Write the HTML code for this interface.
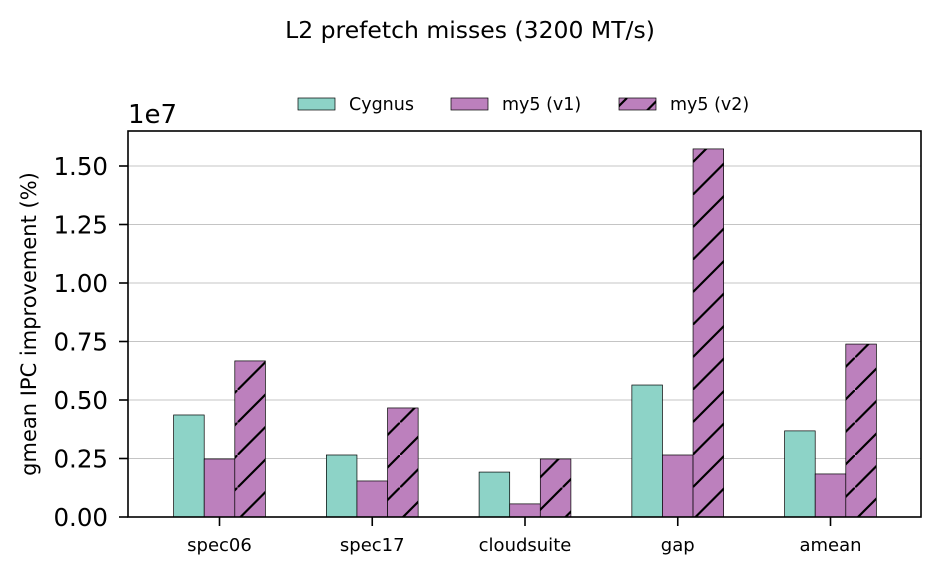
<!DOCTYPE html>
<html><head><meta charset="utf-8"><style>
body{margin:0;background:#fff;font-family:"Liberation Sans","DejaVu Sans",sans-serif}
svg text{font-family:"DejaVu Sans","Liberation Sans",sans-serif}
</style></head><body>
<svg id="chart" width="940" height="574" xmlns="http://www.w3.org/2000/svg">
<defs>
<pattern id="hatch" patternUnits="userSpaceOnUse" width="32.5" height="32.5" x="10">
<rect width="32.5" height="32.5" fill="#bc80bd"/>
<path d="M-4,36.5 L36.5,-4" stroke="#000" stroke-width="2.2"/>
</pattern>
</defs>
<text x="470" y="38" text-anchor="middle" font-size="23.5">L2 prefetch misses (3200 MT/s)</text>
<g id="grid"></g>
<g id="bars"></g>
<rect x="128" y="131" width="793" height="386" fill="none" stroke="#000" stroke-width="1.6"/>
<g id="axes"></g>
<text x="128" y="123" font-size="26">1e7</text>
<text transform="translate(36,324) rotate(-90)" text-anchor="middle" font-size="21">gmean IPC improvement (%)</text>
<g id="legend"></g>
</svg>
<script>
const categories=["spec06","spec17","cloudsuite","gap","amean"];
const seriesNames=["Cygnus","my5 (v1)","my5 (v2)"];
const cygnus=[0.436e7,0.265e7,0.192e7,0.564e7,0.368e7];
const v1=[0.248e7,0.154e7,0.056e7,0.265e7,0.184e7];
const v2=[0.667e7,0.466e7,0.248e7,1.573e7,0.739e7];
const yTicks=[0,0.25e7,0.5e7,0.75e7,1.0e7,1.25e7,1.5e7];
const yTickLabels=["0.00","0.25","0.50","0.75","1.00","1.25","1.50"];
const NS="http://www.w3.org/2000/svg";
const x0=128,x1=921,y0=517,y1=131;
const y=v=>y0-v*(351/1.5e7);
const groupX=i=>219.5+i*152.75;
const bw=30.6;
function mk(t,a,p){const e=document.createElementNS(NS,t);for(const k in a)e.setAttribute(k,a[k]);p.appendChild(e);return e;}
const grid=document.getElementById('grid'),axes=document.getElementById('axes'),bars=document.getElementById('bars');
yTicks.forEach((v,i)=>{
 const g=mk('line',{x1:x0,x2:x1,y1:y(v),y2:y(v),stroke:'#b0b0b0','stroke-width':0.8},grid);
 
 const t=mk('line',{x1:x0-9,x2:x0,y1:y(v),y2:y(v),stroke:'#000','stroke-width':1.6},axes);
 
 const l=mk('text',{x:x0-20,y:y(v)+9,'text-anchor':'end','font-size':24.5},axes);l.textContent=yTickLabels[i];
 
});
const series=[cygnus,v1,v2],fills=['#8dd3c7','#bc80bd','url(#hatch)'];
categories.forEach((c,i)=>{
 series.forEach((s,j)=>{
  const bx=groupX(i)+(j-1.5)*bw;
  const r=mk('rect',{x:bx,y:y(s[i]),width:bw,height:y0-y(s[i]),fill:fills[j],stroke:'#000','stroke-width':0.7},bars);
  
 });
 const t=mk('line',{x1:groupX(i),x2:groupX(i),y1:y0,y2:y0+9,stroke:'#000','stroke-width':1.6},axes);
 
 const l=mk('text',{x:groupX(i),y:551,'text-anchor':'middle','font-size':18},axes);l.textContent=c;
 
});
const leg=document.getElementById('legend');
const lx=[298,451,619];
seriesNames.forEach((n,j)=>{
 const r=mk('rect',{x:lx[j],y:98,width:37,height:12,fill:j==2?'url(#hatch)':fills[j],stroke:'#000','stroke-width':0.7},leg);
 
 const t=mk('text',{x:lx[j]+51,y:110,'font-size':17.5},leg);t.textContent=n;
 
});
</script>
</body></html>
